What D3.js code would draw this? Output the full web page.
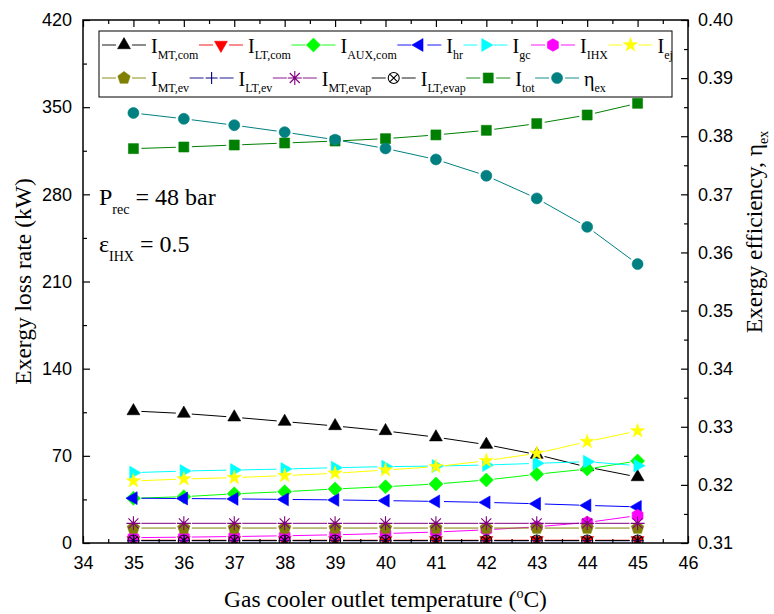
<!DOCTYPE html>
<html>
<head>
<meta charset="utf-8">
<script src="https://cdn.jsdelivr.net/npm/d3@7"></script>
<style>
body { margin: 0; background: #fff; }
svg { display: block; }
</style>
</head>
<body>
<script>
"use strict"

// gas cooler outlet temperature, degC
const temps = [35, 36, 37, 38, 39, 40, 41, 42, 43, 44, 45];

// exergy loss rates, kW
const iMTcom   = [106, 104, 101, 97.5, 94, 90, 85, 79, 71, 61, 53];
const iLTcom   = [2.2, 2.2, 2.2, 2.2, 2.2, 2.2, 2.2, 2.2, 2.2, 2.2, 2.2];
const iAUXcom  = [35.9, 37.2, 39.5, 41.2, 43.4, 45.2, 47.4, 50.6, 55.2, 59.4, 65.9];
const iHr      = [36, 35.7, 35.4, 35, 34.6, 34, 33.4, 32.6, 31.5, 30.2, 29];
const iGc      = [56.5, 57.8, 58.6, 59.4, 60.5, 61.3, 61.8, 62.6, 64, 65.3, 62.1];
const iIHX     = [4.3, 4.7, 5.2, 5.8, 6.6, 7.6, 8.8, 10.6, 13, 16.5, 22];
const iEj      = [49.8, 51.4, 52.5, 54.1, 56, 58.6, 61.3, 66.1, 72, 81.4, 90];
const iMTev    = [12, 12, 12, 12, 12, 12, 12, 12, 12, 12, 12];
const iLTev    = [1.8, 1.8, 1.8, 1.8, 1.8, 1.8, 1.8, 1.8, 1.8, 1.8, 1.8];
const iMTevap  = [15.8, 15.8, 15.8, 15.8, 15.8, 15.8, 15.8, 15.8, 15.8, 15.8, 15.8];
const iLTevap  = [2, 2, 2, 2, 2, 2, 2, 2, 2, 2, 2];
const iTot     = [316.7, 318, 319.6, 321.2, 322.8, 324.7, 327.7, 331.4, 336.8, 343.7, 353.1];
// exergy efficiency (right axis)
const etaEx    = [0.3840, 0.3830, 0.3819, 0.3807, 0.3794, 0.3779, 0.3760, 0.3732, 0.3693, 0.3644, 0.3580];

const xTicks = [34, 35, 36, 37, 38, 39, 40, 41, 42, 43, 44, 45, 46];
const yLeftTicks = [0, 70, 140, 210, 280, 350, 420];
const yRightTicks = [0.31, 0.32, 0.33, 0.34, 0.35, 0.36, 0.37, 0.38, 0.39, 0.40];

const series = [
	{ sub: 'MT,com',  values: iMTcom,  color: '#000000', mark: 'triUp' },
	{ sub: 'LT,com',  values: iLTcom,  color: '#ff0000', mark: 'triDown' },
	{ sub: 'AUX,com', values: iAUXcom, color: '#00ff00', mark: 'diamond' },
	{ sub: 'hr',      values: iHr,     color: '#0000ff', mark: 'triLeft' },
	{ sub: 'gc',      values: iGc,     color: '#00ffff', mark: 'triRight' },
	{ sub: 'IHX',     values: iIHX,    color: '#ff00ff', mark: 'hexagon' },
	{ sub: 'ej',      values: iEj,     color: '#ffff00', mark: 'star' },
	{ sub: 'MT,ev',   values: iMTev,   color: '#808000', mark: 'pentagon' },
	{ sub: 'LT,ev',   values: iLTev,   color: '#000080', mark: 'plus' },
	{ sub: 'MT,evap', values: iMTevap, color: '#800080', mark: 'asterisk' },
	{ sub: 'LT,evap', values: iLTevap, color: '#000000', mark: 'circleX' },
	{ sub: 'tot',     values: iTot,    color: '#008000', mark: 'square' },
	{ sub: 'ex',      values: etaEx,   color: '#008080', mark: 'circle', main: 'η', right: true }
];

const w = 774, h = 614;
const pL = 83, pR = 688, pT = 20, pB = 543;
const serif = '"Liberation Serif", "Times New Roman", serif';
const sans = '"Liberation Sans", Arial, sans-serif';

const svg = d3.select('body').append('svg')
	.attr('width', w)
	.attr('height', h);

const xScale = d3.scaleLinear().domain([34, 46]).range([pL, pR]);
const yScale = d3.scaleLinear().domain([0, 420]).range([pB, pT]);
const yScale2 = d3.scaleLinear().domain([0.31, 0.40]).range([pB, pT]);

// marker shapes
function poly(n, r, rot) {
	const pts = d3.range(n).map(i => {
		const a = rot + i * 2 * Math.PI / n;
		return [r * Math.sin(a), -r * Math.cos(a)];
	});
	return 'M' + pts.map(p => p.join(',')).join('L') + 'Z';
}
const marks = {
	triUp:    { d: d3.symbol(d3.symbolTriangle, 72)(), rot: 0, fill: true },
	triDown:  { d: d3.symbol(d3.symbolTriangle, 72)(), rot: 180, fill: true },
	triLeft:  { d: d3.symbol(d3.symbolTriangle, 72)(), rot: -90, fill: true },
	triRight: { d: d3.symbol(d3.symbolTriangle, 72)(), rot: 90, fill: true },
	diamond:  { d: 'M0,-7L7,0L0,7L-7,0Z', rot: 0, fill: true },
	hexagon:  { d: poly(6, 6.3, 0), rot: 0, fill: true },
	star:     { d: d3.symbol(d3.symbolStar, 62)(), rot: 0, fill: true },
	pentagon: { d: poly(5, 6.5, 0), rot: 0, fill: true },
	plus:     { d: 'M-6,0H6M0,-6V6', rot: 0, fill: false },
	asterisk: { d: 'M-7,0H7M0,-7V7M-5,-5L5,5M-5,5L5,-5', rot: 0, fill: false },
	circleX:  { d: 'M5.5,0A5.5,5.5 0 1 1 -5.5,0A5.5,5.5 0 1 1 5.5,0ZM-3.9,-3.9L3.9,3.9M-3.9,3.9L3.9,-3.9', rot: 0, fill: false },
	square:   { d: 'M-5,-5H5V5H-5Z', rot: 0, fill: true },
	circle:   { d: d3.symbol(d3.symbolCircle, 95)(), rot: 0, fill: true }
};

function drawMark(g, s, x, y) {
	const m = marks[s.mark];
	g.append('path')
		.attr('d', m.d)
		.attr('transform', 'translate(' + x + ',' + y + ') rotate(' + m.rot + ')')
		.attr('fill', m.fill ? s.color : 'none')
		.attr('stroke', s.color)
		.attr('stroke-width', m.fill ? 0.6 : 1.1);
}

// line broken around every marker, like the plotting program does
function gapped(pts, gap) {
	let p = '';
	for (let i = 0; i < pts.length - 1; i++) {
		const [x0, y0] = pts[i], [x1, y1] = pts[i + 1];
		const len = Math.hypot(x1 - x0, y1 - y0);
		if (len <= 2 * gap) continue;
		const ux = (x1 - x0) / len, uy = (y1 - y0) / len;
		p += 'M' + (x0 + ux * gap) + ',' + (y0 + uy * gap) + 'L' + (x1 - ux * gap) + ',' + (y1 - uy * gap);
	}
	return p;
}

svg.append('clipPath').attr('id', 'plot')
	.append('rect')
	.attr('x', pL).attr('y', pT)
	.attr('width', pR - pL).attr('height', pB - pT);

const plot = svg.append('g').attr('clip-path', 'url(#plot)');

series.forEach(s => {
	const ys = s.right ? yScale2 : yScale;
	const pts = temps.map((t, i) => [xScale(t), ys(s.values[i])]);
	const g = plot.append('g');
	g.append('path')
		.attr('d', gapped(pts, 8))
		.attr('fill', 'none')
		.attr('stroke', s.color)
		.attr('stroke-width', 1);
	pts.forEach(p => drawMark(g, s, p[0], p[1]));
});

// axes, ticks pointing inwards
const xMinor = d3.range(34.5, 46, 1);
const axisStyle = g => {
	g.select('.domain').remove();
	g.selectAll('line').attr('stroke', '#000').attr('stroke-width', 1.2);
	g.selectAll('text').attr('font-family', sans).attr('font-size', 18).attr('fill', '#000');
};

svg.append('g')
	.attr('transform', 'translate(0,' + pB + ')')
	.call(d3.axisBottom(xScale).tickValues(xTicks).tickSize(-7).tickPadding(13).tickFormat(d3.format('d')))
	.call(axisStyle);
svg.append('g')
	.attr('transform', 'translate(0,' + pB + ')')
	.call(d3.axisBottom(xScale).tickValues(xMinor).tickSize(-4).tickFormat(''))
	.call(axisStyle);
svg.append('g')
	.attr('transform', 'translate(0,' + pT + ')')
	.call(d3.axisTop(xScale).tickValues(xTicks).tickSize(-7).tickFormat(''))
	.call(axisStyle);
svg.append('g')
	.attr('transform', 'translate(0,' + pT + ')')
	.call(d3.axisTop(xScale).tickValues(xMinor).tickSize(-4).tickFormat(''))
	.call(axisStyle);

svg.append('g')
	.attr('transform', 'translate(' + pL + ',0)')
	.call(d3.axisLeft(yScale).tickValues(yLeftTicks).tickSize(-7).tickPadding(11).tickFormat(d3.format('d')))
	.call(axisStyle);
svg.append('g')
	.attr('transform', 'translate(' + pL + ',0)')
	.call(d3.axisLeft(yScale).tickValues(d3.range(35, 420, 70)).tickSize(-4).tickFormat(''))
	.call(axisStyle);

svg.append('g')
	.attr('transform', 'translate(' + pR + ',0)')
	.call(d3.axisRight(yScale2).tickValues(yRightTicks).tickSize(-7).tickPadding(10).tickFormat(d3.format('.2f')))
	.call(axisStyle);
svg.append('g')
	.attr('transform', 'translate(' + pR + ',0)')
	.call(d3.axisRight(yScale2).tickValues(d3.range(0.315, 0.40, 0.01)).tickSize(-4).tickFormat(''))
	.call(axisStyle);

svg.append('rect')
	.attr('x', pL).attr('y', pT)
	.attr('width', pR - pL).attr('height', pB - pT)
	.attr('fill', 'none')
	.attr('stroke', '#000')
	.attr('stroke-width', 1.5);

// axis titles
const xt = svg.append('text')
	.attr('x', (pL + pR) / 2)
	.attr('y', 607)
	.attr('text-anchor', 'middle')
	.attr('font-family', serif)
	.attr('font-size', 23.5);
xt.append('tspan').text('Gas cooler outlet temperature (');
xt.append('tspan').attr('font-size', 14).attr('dy', -9).text('o');
xt.append('tspan').attr('dy', 9).text('C)');

svg.append('text')
	.attr('transform', 'translate(31,' + (pT + pB) / 2 + ') rotate(-90)')
	.attr('text-anchor', 'middle')
	.attr('font-family', serif)
	.attr('font-size', 23.5)
	.text('Exergy loss rate (kW)');

const yt2 = svg.append('text')
	.attr('transform', 'translate(762,232) rotate(-90)')
	.attr('text-anchor', 'middle')
	.attr('font-family', serif)
	.attr('font-size', 23.5);
yt2.append('tspan').text('Exergy efficiency, η');
yt2.append('tspan').attr('font-size', 14).attr('dy', 6).text('ex');

// annotations
const a1 = svg.append('text')
	.attr('x', 99).attr('y', 205)
	.attr('font-family', serif).attr('font-size', 24);
a1.append('tspan').text('P');
a1.append('tspan').attr('font-size', 14).attr('dy', 9).text('rec');
a1.append('tspan').attr('dy', -9).text(' = 48 bar');

const a2 = svg.append('text')
	.attr('x', 99).attr('y', 252)
	.attr('font-family', serif).attr('font-size', 24);
a2.append('tspan').text('ε');
a2.append('tspan').attr('font-size', 14).attr('dy', 9).text('IHX');
a2.append('tspan').attr('dy', -9).text(' = 0.5');

// legend
const legend = svg.append('g');
legend.append('rect')
	.attr('x', 99).attr('y', 31)
	.attr('width', 573).attr('height', 66)
	.attr('fill', '#fff')
	.attr('stroke', '#000')
	.attr('stroke-width', 1);

const rows = [series.slice(0, 7), series.slice(7)];
const rowY = [45, 78];
rows.forEach((row, r) => {
	let x = 102;
	row.forEach(s => {
		const cy = rowY[r];
		const g = legend.append('g');
		g.append('path')
			.attr('d', 'M' + x + ',' + cy + 'H' + (x + 14) + 'M' + (x + 30) + ',' + cy + 'H' + (x + 44))
			.attr('stroke', s.color)
			.attr('stroke-opacity', 0.6)
			.attr('stroke-width', 1.5);
		drawMark(g, s, x + 22, cy);
		const t = g.append('text')
			.attr('x', x + 49).attr('y', cy + 8)
			.attr('font-family', serif).attr('font-size', 20);
		t.append('tspan').text(s.main || 'I');
		t.append('tspan').attr('font-size', 12).attr('dy', 6).text(s.sub);
		x += 49 + t.node().getComputedTextLength() + 0.5;
	});
});
</script>
</body>
</html>
